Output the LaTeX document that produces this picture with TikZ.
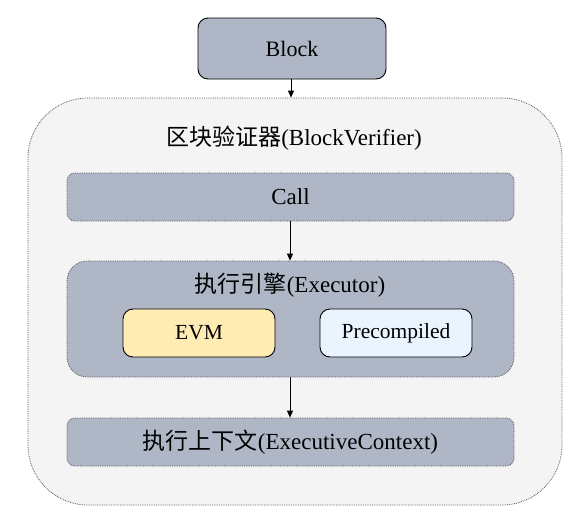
\documentclass[tikz,border=0pt]{standalone}
\usepackage{fontspec}
\setmainfont{Liberation Serif}
\newfontfamily\cjk{Noto Sans CJK SC}
\usetikzlibrary{arrows.meta}
\definecolor{boxgray}{HTML}{AFB6C6}
\definecolor{outerfill}{HTML}{F4F4F4}
\definecolor{evmfill}{HTML}{FFECB5}
\definecolor{prefill}{HTML}{EAF4FF}
\definecolor{dotline}{HTML}{555555}
\tikzset{
  solidbox/.style={draw=black, line width=0.9pt, rounded corners=10pt, inner sep=0pt, align=center},
  dotbox/.style={draw=dotline, densely dotted, line width=0.8pt, inner sep=0pt, align=center},
  arr/.style={-{Triangle[length=7pt,width=6pt]}, line width=0.8pt, draw=black},
  big/.style={font=\fontsize{23}{27}\selectfont},
  mid/.style={font=\fontsize{21.5}{25}\selectfont}
}
\begin{document}
\begin{tikzpicture}[x=1pt,y=-1pt]
\useasboundingbox (0,0) rectangle (586,523);
\node[dotbox, fill=outerfill, rounded corners=60pt, minimum width=534pt, minimum height=407pt] (outer) at (295,301.5) {};
\node[big] (outertitle) at (294,138) {{\cjk 区块验证器}(BlockVerifier)};
\node[solidbox, fill=boxgray, minimum width=188pt, minimum height=61pt, font=\fontsize{22}{26}\selectfont] (block) at (292,48.5) {Block};
\node[dotbox, fill=boxgray, rounded corners=8pt, minimum width=447pt, minimum height=48pt, big] (call) at (290.5,197) {Call};
\node[dotbox, fill=boxgray, rounded corners=20pt, minimum width=447pt, minimum height=116pt] (exec) at (290.5,319) {};
\node[big] (exectitle) at (290,285) {{\cjk 执行引擎}(Executor)};
\node[solidbox, fill=evmfill, minimum width=152pt, minimum height=48pt, mid] (evm) at (199,333) {EVM};
\node[solidbox, fill=prefill, minimum width=152pt, minimum height=48pt, mid] (pre) at (396,333) {Precompiled};
\node[dotbox, fill=boxgray, rounded corners=8pt, minimum width=447pt, minimum height=48pt, big] (ctx) at (290.5,442) {{\cjk 执行上下文}(ExecutiveContext)};
\draw[arr] (block.south -| 291,0) -- (outer.north -| 291,0);
\draw[arr] (call.south -| 290,0) -- (exec.north -| 290,0);
\draw[arr] (exec.south -| 290,0) -- (ctx.north -| 290,0);
\end{tikzpicture}
\end{document}
